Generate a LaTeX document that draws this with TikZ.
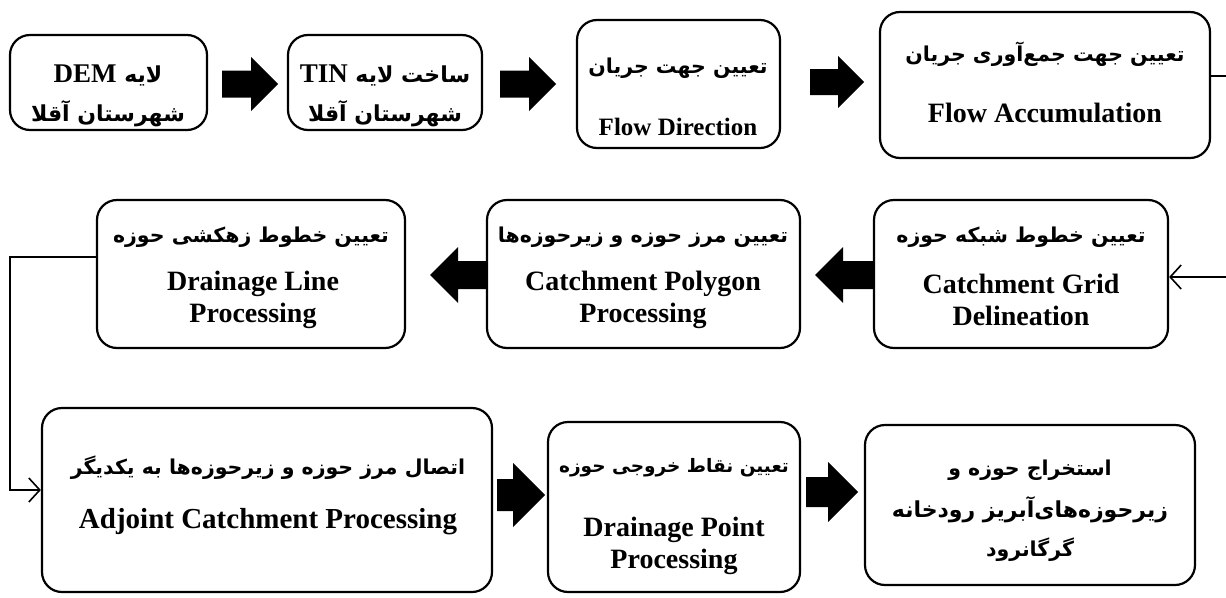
\documentclass[tikz,border=0pt]{standalone}
\usepackage{fontspec}
\setmainfont{Liberation Serif}
\newfontfamily\pfont[Script=Arabic]{DejaVu Sans}
\TeXXeTstate=1
\usetikzlibrary{arrows.meta,fit}
\newcommand\faR[1]{\beginR #1\endR}
\newcommand\lat[1]{\beginL{\rmfamily\bfseries\fontsize{27}{30}\selectfont #1}\endL{}}
% right-pointing block arrow: x1 (tail) x2 (tip) y halfhead
\newcommand\rblk[4]{\fill (#1,#3-0.5*#4) -- (#2-#4,#3-0.5*#4) -- (#2-#4,#3-#4) -- (#2,#3) -- (#2-#4,#3+#4) -- (#2-#4,#3+0.5*#4) -- (#1,#3+0.5*#4) -- cycle;}
% left-pointing block arrow: x1 (tip) x2 (tail) y halfhead
\newcommand\lblk[4]{\fill (#1,#3) -- (#1+#4,#3-#4) -- (#1+#4,#3-0.5*#4) -- (#2,#3-0.5*#4) -- (#2,#3+0.5*#4) -- (#1+#4,#3+0.5*#4) -- (#1+#4,#3+#4) -- cycle;}
\tikzset{
  box/.style={draw, line width=2.2pt, rounded corners=20pt, inner sep=0pt},
  en/.style={font=\bfseries\fontsize{28}{30}\selectfont, inner sep=0pt},
  fa/.style={font=\pfont\bfseries\fontsize{20.5}{24}\selectfont, inner sep=0pt},
  link/.style={line width=1.6pt},
  barb/.style={-{Straight Barb[length=11pt,width=24pt]}}
}
\begin{document}
\begin{tikzpicture}[x=1pt,y=-1pt]
\useasboundingbox (0,0) rectangle (1226,597);
% row 1
\node[box, fit={(10,35) (207,130)}] (b1) {};
\node[box, fit={(288,35) (482,130)}] (b2) {};
\node[box, fit={(577,20) (780,148)}] (b3) {};
\node[box, fit={(880,12) (1210,158)}] (b4) {};
\node[fa, font=\pfont\bfseries\fontsize{22}{24}\selectfont] (t1a) at (108,75) {\faR{لایه \lat{DEM}}};
\node[fa, font=\pfont\bfseries\fontsize{22}{24}\selectfont] (t1b) at (108,114) {\faR{شهرستان آقلا}};
\node[fa, font=\pfont\bfseries\fontsize{22}{24}\selectfont] (t2a) at (385,75) {\faR{ساخت لایه \lat{TIN}}};
\node[fa, font=\pfont\bfseries\fontsize{22}{24}\selectfont] (t2b) at (385,114) {\faR{شهرستان آقلا}};
\node[fa] (t3a) at (678,68) {\faR{تعیین جهت جریان}};
\node[en, font=\bfseries\fontsize{25}{28}\selectfont] (t3b) at (678,127) {Flow Direction};
\node[fa] (t4a) at (1045,54) {\faR{تعیین جهت جمع‌آوری جریان}};
\node[en] (t4b) at (1045,113) {Flow Accumulation};
\rblk{222}{278}{84}{27}
\rblk{500}{556}{84}{27}
\rblk{810}{864}{82}{26}
% row 2
\node[box, fit={(97,200) (405,348)}] (b5) {};
\node[box, fit={(487,200) (800,348)}] (b6) {};
\node[box, fit={(874,200) (1168,348)}] (b7) {};
\node[fa] (t5a) at (251,237) {\faR{تعیین خطوط زهکشی حوزه}};
\node[en] (t5b) at (253,284) {Drainage Line};
\node[en] (t5c) at (253,316) {Processing};
\node[fa] (t6a) at (643,237) {\faR{تعیین مرز حوزه و زیرحوزه‌ها}};
\node[en] (t6b) at (643,284) {Catchment Polygon};
\node[en] (t6c) at (643,316) {Processing};
\node[fa] (t7a) at (1021,237) {\faR{تعیین خطوط شبکه حوزه}};
\node[en] (t7b) at (1021,284) {Catchment Grid};
\node[en] (t7c) at (1021,316) {Delineation};
\lblk{430}{487}{275}{28}
\lblk{815}{874}{275}{28}
% row 3
\node[box, fit={(42,408) (492,592)}] (b8) {};
\node[box, fit={(548,422) (800,592)}] (b9) {};
\node[box, fit={(865,425) (1195,585)}] (b10) {};
\node[fa] (t8a) at (268,468) {\faR{اتصال مرز حوزه و زیرحوزه‌ها به یکدیگر}};
\node[en, font=\bfseries\fontsize{29}{30}\selectfont] (t8b) at (268,522) {Adjoint Catchment Processing};
\node[fa, font=\pfont\bfseries\fontsize{18.5}{22}\selectfont] (t9a) at (674,468) {\faR{تعیین نقاط خروجی حوزه}};
\node[en] (t9b) at (674,530) {Drainage Point};
\node[en] (t9c) at (674,562) {Processing};
\node[fa] (t10a) at (1030,470) {\faR{استخراج حوزه و}};
\node[fa, font=\pfont\bfseries\fontsize{22}{24}\selectfont] (t10b) at (1030,510) {\faR{زیرحوزه‌های‌آبریز رودخانه}};
\node[fa] (t10c) at (1030,550) {\faR{گرگانرود}};
\rblk{497}{545}{495}{32}
\rblk{806}{858}{492}{30}
% connectors
\coordinate (r1) at (1226,76);
\draw[link] (b4.east |- r1) -- (r1);
\coordinate (r2) at (1226,277);
\draw[link, barb] (r2) -- (b7.east |- r2);
\coordinate (l1) at (10,257);
\coordinate (l2) at (10,490);
\draw[link, barb] (b5.west |- l1) -- (l1) -- (l2) -- (b8.west |- l2);
\end{tikzpicture}
\end{document}
